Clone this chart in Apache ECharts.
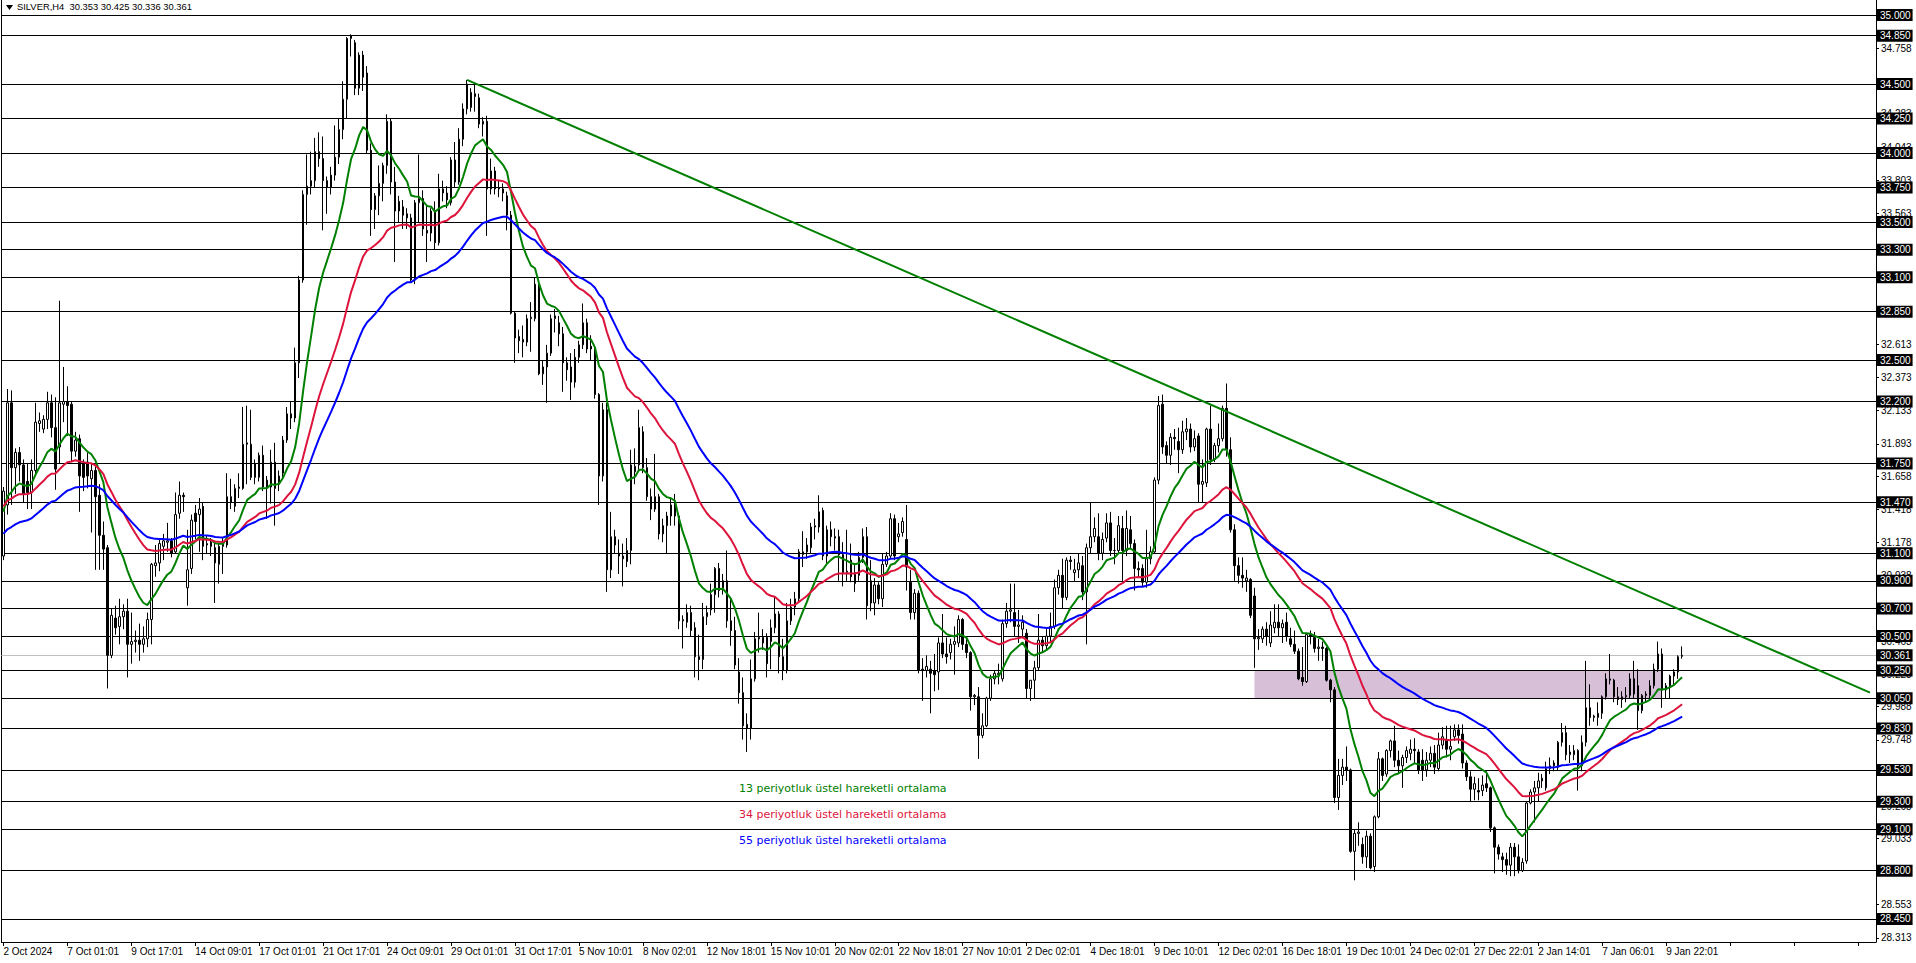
<!DOCTYPE html>
<html><head><meta charset="utf-8">
<script src="https://cdn.jsdelivr.net/npm/echarts@6/dist/echarts.min.js"></script>
<style>html,body{margin:0;padding:0;background:#fff;overflow:hidden}#c{width:1916px;height:963px}</style>
</head><body><div id="c"></div>
<script>
const titleText = 'SILVER,H4  30.353 30.425 30.336 30.361';
const tickLabels = ['2 Oct 2024','7 Oct 01:01','9 Oct 17:01','14 Oct 09:01','17 Oct 01:01','21 Oct 17:01','24 Oct 09:01','29 Oct 01:01','31 Oct 17:01','5 Nov 10:01','8 Nov 02:01','12 Nov 18:01','15 Nov 10:01','20 Nov 02:01','22 Nov 18:01','27 Nov 10:01','2 Dec 02:01','4 Dec 18:01','9 Dec 10:01','12 Dec 02:01','16 Dec 18:01','19 Dec 10:01','24 Dec 02:01','27 Dec 22:01','2 Jan 14:01','7 Jan 06:01','9 Jan 22:01'];
const labelEvery = 16;
// [open, close, low, high]
const candles = [
[31.08,31.55,31.05,31.58],[31.45,32.19,31.38,32.29],[32.19,31.72,31.45,32.28],[31.72,31.83,31.53,31.86],[31.83,31.74,31.62,31.87],
[31.74,31.53,31.47,31.78],[31.62,31.54,31.42,31.75],[31.54,31.70,31.42,31.78],[31.70,32.05,31.68,32.19],[32.04,32.06,31.98,32.12],
[32.00,32.07,31.97,32.10],[32.07,32.19,32.00,32.27],[32.19,32.01,31.94,32.25],[32.01,31.71,31.56,32.23],[31.87,32.19,31.75,32.93],
[32.18,32.20,32.05,32.45],[32.20,32.17,31.95,32.31],[32.18,31.84,31.76,32.20],[31.84,31.92,31.80,31.98],[31.93,31.66,31.40,31.96],
[31.75,31.65,31.55,31.78],[31.76,31.66,31.57,31.83],[31.64,31.70,31.25,31.75],[31.70,31.51,30.98,31.73],[31.52,31.23,30.98,31.60],
[31.23,31.13,30.98,31.33],[31.14,30.36,30.12,31.16],[30.36,30.65,30.34,30.70],[30.63,30.56,30.51,30.72],[30.57,30.64,30.44,30.77],
[30.64,30.68,30.55,30.73],[30.68,30.44,30.20,30.77],[30.44,30.46,30.30,30.67],[30.46,30.47,30.38,30.54],[30.47,30.44,30.32,30.59],
[30.44,30.48,30.38,30.57],[30.48,30.62,30.42,30.67],[30.62,31.02,30.44,31.03],[31.01,31.03,30.93,31.16],[31.03,31.17,30.97,31.21],
[31.15,31.19,31.05,31.24],[31.18,31.19,31.11,31.32],[31.19,31.10,31.07,31.21],[31.11,31.38,31.10,31.54],[31.39,31.52,31.35,31.62],
[31.52,31.51,31.40,31.54],[30.85,30.98,30.72,31.27],[30.99,31.34,30.95,31.38],[31.39,31.33,31.20,31.45],[31.38,31.42,31.11,31.50],
[31.44,31.15,31.05,31.47],[31.16,31.17,31.10,31.23],[31.18,31.15,31.08,31.21],[31.14,31.03,30.74,31.18],[31.02,31.15,30.88,31.17],
[31.15,31.17,30.95,31.21],[31.16,31.51,31.14,31.68],[31.51,31.47,31.42,31.64],[31.44,31.57,31.40,31.60],[31.57,31.58,31.50,31.68],
[31.57,31.89,31.56,32.16],[31.89,31.90,31.60,32.17],[31.89,31.65,31.63,32.14],[31.75,31.65,31.60,31.78],[31.65,31.81,31.62,31.83],
[31.81,31.58,31.55,31.88],[31.63,31.58,31.35,31.66],[31.58,31.76,31.46,31.85],[31.76,31.57,31.30,31.90],[31.60,31.66,31.55,31.70],
[31.68,31.92,31.64,31.95],[31.92,32.11,31.90,32.16],[32.11,32.08,32.00,32.20],[32.08,32.48,32.05,32.59],[32.48,33.08,32.37,33.11],
[33.08,33.70,33.06,33.73],[33.70,33.76,33.48,33.99],[33.76,33.80,33.70,34.01],[33.80,34.01,33.75,34.11],[34.01,33.96,33.90,34.15],
[33.96,33.80,33.44,34.12],[33.80,33.75,33.56,33.83],[33.75,33.84,33.70,33.90],[33.84,33.97,33.80,34.20],[33.97,34.17,33.92,34.25],
[34.17,34.39,34.10,34.52],[34.39,34.83,34.25,34.84],[34.83,34.85,34.70,34.86],[34.80,34.47,34.42,34.82],[34.47,34.71,34.42,34.73],
[34.71,34.55,34.45,34.74],[34.58,34.02,34.00,34.63],[34.02,33.59,33.40,34.07],[33.59,33.69,33.45,33.71],[33.69,33.78,33.55,33.91],
[33.78,33.91,33.65,33.93],[33.91,34.23,33.85,34.28],[34.23,33.79,33.70,34.25],[33.79,33.58,33.21,33.90],[33.58,33.65,33.50,33.69],
[33.61,33.55,33.45,33.66],[33.56,33.53,33.45,33.60],[33.53,33.08,33.06,33.56],[33.08,33.64,33.05,33.66],[33.64,33.67,33.50,33.99],
[33.67,33.45,33.40,33.73],[33.44,33.42,33.21,33.62],[33.42,33.58,33.36,33.60],[33.58,33.35,33.30,33.65],[33.35,33.74,33.33,33.85],
[33.74,33.71,33.65,33.80],[33.71,33.66,33.60,33.76],[33.64,33.95,33.62,33.97],[33.95,33.79,33.75,34.08],[33.79,34.10,33.77,34.18],
[34.10,34.32,34.05,34.36],[34.32,34.50,34.28,34.53],[34.33,34.44,34.30,34.47],[34.43,34.41,34.30,34.51],[34.40,34.21,34.18,34.43],
[34.21,34.23,34.12,34.26],[34.23,33.74,33.40,34.27],[33.74,33.87,33.70,33.96],[33.87,33.74,33.70,33.90],[33.74,33.75,33.68,33.80],
[33.74,33.71,33.65,33.78],[33.69,33.55,33.44,33.72],[33.55,32.84,32.83,33.58],[32.84,32.66,32.48,32.85],[32.67,32.64,32.55,32.72],
[32.63,32.65,32.52,32.75],[32.63,32.80,32.60,32.83],[32.80,32.81,32.56,32.92],[32.80,33.05,32.78,33.10],[33.05,32.40,32.39,33.07],
[32.40,32.45,32.32,32.50],[32.45,32.55,32.19,32.61],[32.55,32.80,32.53,32.83],[32.80,32.82,32.70,32.87],[32.77,32.69,32.60,32.82],
[32.69,32.48,32.27,32.74],[32.48,32.43,32.35,32.52],[32.45,32.34,32.21,32.55],[32.34,32.52,32.30,32.58],[32.52,32.61,32.48,32.64],
[32.61,32.77,32.58,32.91],[32.77,32.58,32.55,32.80],[32.60,32.58,32.50,32.68],[32.58,32.25,32.22,32.61],[32.25,31.66,31.45,32.26],
[31.66,32.14,31.62,32.19],[32.14,30.98,30.82,32.19],[30.98,31.22,30.92,31.40],[31.22,31.16,31.10,31.27],[31.10,31.08,30.95,31.20],
[31.08,31.06,30.86,31.17],[31.04,31.12,31.00,31.21],[31.12,31.74,31.02,31.85],[31.69,31.73,31.60,31.86],[31.74,32.01,31.70,32.14],
[31.98,31.72,31.68,32.02],[31.72,31.51,31.48,31.79],[31.51,31.42,31.34,31.57],[31.42,31.51,31.40,31.82],[31.51,31.24,31.20,31.53],
[31.24,31.30,31.18,31.35],[31.30,31.37,31.10,31.40],[31.37,31.45,31.30,31.50],[31.45,31.37,31.30,31.53],[31.37,30.61,30.55,31.39],
[30.61,30.62,30.41,30.65],[30.60,30.67,30.56,30.73],[30.67,30.54,30.50,30.72],[30.56,30.35,30.20,30.60],[30.35,30.33,30.18,30.51],
[30.33,30.64,30.26,30.74],[30.64,30.67,30.58,30.72],[30.69,30.80,30.65,30.88],[30.80,30.99,30.67,31.00],[30.99,30.83,30.78,31.03],
[30.90,30.85,30.80,30.95],[30.90,30.61,30.56,31.12],[30.61,30.54,30.43,30.78],[30.54,30.29,30.26,30.64],[30.24,30.09,30.01,30.34],
[30.09,29.85,29.75,30.20],[29.86,29.83,29.66,29.94],[29.83,30.19,29.75,30.33],[30.19,30.48,30.17,30.53],[30.48,30.49,30.38,30.67],
[30.49,30.45,30.40,30.55],[30.49,30.30,30.20,30.52],[30.46,30.56,30.26,30.62],[30.56,30.66,30.52,30.79],[30.66,30.35,30.23,30.68],
[30.35,30.25,30.18,30.48],[30.25,30.61,30.23,30.74],[30.61,30.71,30.58,30.77],[30.71,30.77,30.65,30.82],[30.77,31.11,30.75,31.13],
[31.09,31.11,31.00,31.26],[31.11,31.16,31.06,31.21],[31.14,31.29,31.10,31.32],[31.29,31.30,31.20,31.35],[31.29,31.40,31.25,31.52],
[31.41,31.08,31.05,31.43],[31.08,31.27,31.03,31.30],[31.27,31.22,31.15,31.33],[31.22,31.21,31.12,31.28],[31.22,31.09,30.90,31.27],
[31.09,30.96,30.86,31.18],[30.96,30.97,30.90,31.27],[31.05,30.93,30.89,31.17],[30.88,30.96,30.82,31.03],[30.94,31.07,30.90,31.11],
[31.07,31.22,31.03,31.28],[31.22,30.72,30.62,31.29],[30.90,30.74,30.68,31.05],[30.74,30.87,30.65,30.92],[30.87,30.77,30.73,30.89],
[30.77,31.02,30.71,31.10],[31.02,31.08,31.00,31.11],[31.08,31.35,31.06,31.39],[31.35,31.08,31.05,31.38],[31.22,31.24,31.18,31.32],
[31.25,31.33,31.22,31.36],[31.20,31.00,30.83,31.45],[30.89,30.67,30.62,30.98],[30.67,30.81,30.62,30.84],[30.81,30.25,30.23,30.83],
[30.26,30.25,30.03,30.34],[30.25,30.28,30.20,30.36],[30.26,30.23,29.94,30.32],[30.25,30.22,30.10,30.37],[30.24,30.45,30.11,30.49],
[30.45,30.37,30.34,30.66],[30.37,30.35,30.30,30.49],[30.38,30.44,30.33,30.48],[30.44,30.46,30.22,30.57],[30.45,30.62,30.42,30.65],
[30.62,30.44,30.40,30.63],[30.44,30.38,30.34,30.49],[30.38,30.06,29.96,30.39],[30.06,30.07,30.00,30.08],[30.06,29.78,29.61,30.13],
[29.78,29.85,29.76,29.94],[29.85,30.05,29.84,30.06],[30.05,30.19,30.03,30.22],[30.19,30.23,30.15,30.25],[30.22,30.23,30.15,30.30],
[30.19,30.59,30.17,30.62],[30.59,30.68,30.56,30.74],[30.68,30.69,30.60,30.88],[30.67,30.57,30.50,30.88],[30.57,30.58,30.45,30.69],
[30.55,30.60,30.50,30.65],[30.52,30.12,30.05,30.55],[30.12,30.18,30.03,30.18],[30.18,30.27,30.05,30.32],[30.27,30.47,30.25,30.66],
[30.47,30.43,30.38,30.50],[30.43,30.50,30.40,30.55],[30.50,30.57,30.46,30.67],[30.57,30.85,30.55,30.91],[30.85,30.94,30.80,30.98],
[30.94,30.78,30.70,31.06],[30.78,31.05,30.76,31.07],[31.05,31.04,30.98,31.08],[30.96,30.98,30.90,31.06],[30.98,31.03,30.92,31.10],
[31.01,30.82,30.76,31.08],[30.82,31.14,30.44,31.17],[31.14,31.22,31.10,31.47],[31.22,31.28,31.18,31.36],[31.22,31.10,31.05,31.39],
[31.10,31.20,31.05,31.25],[31.21,31.32,31.18,31.39],[31.32,31.12,31.08,31.40],[31.12,31.12,31.02,31.21],[31.12,31.30,31.10,31.37],
[31.28,31.12,30.90,31.37],[31.12,31.28,31.08,31.41],[31.27,31.17,31.13,31.37],[31.17,30.99,30.83,31.20],[30.99,30.98,30.92,31.04],
[30.99,30.89,30.86,31.02],[30.89,31.06,30.85,31.27],[31.06,31.11,31.02,31.15],[31.11,31.63,31.10,31.65],[31.63,32.17,31.60,32.24],
[32.18,31.87,31.82,32.25],[31.88,31.81,31.75,31.91],[31.81,31.94,31.74,31.97],[31.94,31.93,31.85,32.00],[31.91,31.85,31.68,32.01],
[31.85,31.98,31.82,32.06],[31.98,32.00,31.92,32.08],[32.00,31.87,31.83,32.04],[31.87,31.93,31.84,31.99],[31.95,31.60,31.47,31.97],
[31.60,31.62,31.47,31.78],[31.61,32.00,31.58,32.01],[32.00,31.78,31.74,32.17],[31.78,31.88,31.76,31.90],[31.88,31.93,31.83,32.04],
[31.93,32.15,31.91,32.17],[32.15,31.85,31.80,32.33],[31.85,31.27,31.25,31.94],[31.27,31.01,30.90,31.31],[31.01,30.94,30.88,31.07],
[30.94,30.92,30.85,31.07],[30.90,30.92,30.82,30.98],[30.91,30.65,30.63,30.92],[30.79,30.48,30.27,30.85],[30.48,30.49,30.40,30.55],
[30.48,30.55,30.45,30.57],[30.55,30.50,30.43,30.60],[30.45,30.58,30.42,30.68],[30.56,30.60,30.52,30.73],[30.60,30.56,30.50,30.73],
[30.56,30.59,30.45,30.62],[30.60,30.50,30.46,30.67],[30.48,30.44,30.42,30.56],[30.44,30.39,30.37,30.54],[30.39,30.19,30.18,30.41],
[30.20,30.17,30.14,30.42],[30.17,30.51,30.16,30.52],[30.51,30.50,30.44,30.54],[30.49,30.41,30.38,30.53],[30.41,30.42,30.32,30.48],
[30.42,30.41,30.32,30.46],[30.41,30.18,30.17,30.42],[30.18,30.11,30.02,30.19],[30.11,29.33,29.29,30.13],[29.33,29.49,29.24,29.61],
[29.49,29.55,29.42,29.61],[29.55,29.53,29.45,29.70],[29.53,28.94,28.93,29.54],[28.94,29.07,28.73,29.10],[29.07,29.08,28.98,29.15],
[28.99,28.90,28.85,29.04],[28.90,29.05,28.82,29.09],[29.05,28.82,28.81,29.07],[28.83,29.19,28.79,29.20],[29.19,29.61,29.18,29.66],
[29.61,29.49,29.45,29.62],[29.50,29.67,29.48,29.68],[29.67,29.74,29.62,29.75],[29.74,29.60,29.55,29.85],[29.60,29.56,29.50,29.67],
[29.56,29.62,29.40,29.64],[29.62,29.67,29.58,29.70],[29.65,29.68,29.60,29.75],[29.68,29.67,29.58,29.76],[29.66,29.53,29.50,29.68],
[29.60,29.53,29.45,29.68],[29.53,29.60,29.48,29.66],[29.60,29.65,29.55,29.70],[29.65,29.55,29.50,29.71],[29.54,29.71,29.52,29.80],
[29.71,29.77,29.68,29.84],[29.75,29.68,29.62,29.85],[29.68,29.70,29.60,29.85],[29.77,29.82,29.74,29.86],[29.82,29.78,29.72,29.86],
[29.79,29.58,29.54,29.86],[29.58,29.48,29.45,29.60],[29.48,29.39,29.30,29.52],[29.39,29.43,29.31,29.48],[29.38,29.37,29.31,29.47],
[29.38,29.42,29.34,29.49],[29.43,29.40,29.37,29.52],[29.40,29.11,29.08,29.41],[29.11,28.97,28.78,29.12],[28.97,28.92,28.88,28.99],
[28.90,28.88,28.79,28.93],[28.88,28.84,28.77,28.93],[28.84,28.97,28.76,29.00],[28.97,28.90,28.76,29.00],[28.90,28.80,28.78,28.99],
[28.80,28.86,28.79,28.89],[28.87,29.29,28.85,29.30],[29.29,29.37,29.28,29.39],[29.37,29.40,29.15,29.45],[29.40,29.45,29.30,29.51],
[29.45,29.47,29.40,29.50],[29.40,29.54,29.38,29.59],[29.54,29.56,29.50,29.62],[29.56,29.58,29.52,29.60],[29.55,29.73,29.53,29.74],
[29.73,29.80,29.70,29.87],[29.80,29.64,29.60,29.85],[29.64,29.66,29.58,29.71],[29.64,29.67,29.60,29.71],[29.67,29.56,29.38,29.68],
[29.56,29.73,29.52,29.78],[29.73,29.98,29.70,30.32],[29.98,29.91,29.85,30.15],[29.91,29.92,29.88,29.93],[29.91,29.94,29.85,30.02],
[29.94,30.06,29.90,30.07],[30.06,30.19,30.04,30.23],[30.18,30.19,30.15,30.37],[30.18,30.06,30.02,30.19],[30.06,30.04,30.00,30.13],
[30.04,30.06,29.98,30.10],[30.06,30.07,30.02,30.13],[30.07,30.19,30.05,30.23],[30.19,30.08,30.05,30.32],[30.14,29.96,29.82,30.26],
[29.96,30.07,29.94,30.08],[30.07,30.08,30.02,30.10],[30.07,30.14,30.04,30.18],[30.14,30.26,30.12,30.30],[30.26,30.37,30.24,30.46],
[30.37,30.11,29.98,30.41],[30.11,30.14,30.05,30.16],[30.14,30.21,30.05,30.22],[30.21,30.24,30.15,30.26],[30.24,30.35,30.19,30.36],
[30.353,30.361,30.336,30.425]
];
const emaPeriods = [13, 34, 55];
const emaStart = [31.40, 31.44, 31.24];   // indicator values read at the first visible bar
const emaColors = ['#008000', '#dc143c', '#0000ff'];
const emaNames = ['13 periyotluk üstel hareketli ortalama', '34 periyotluk üstel hareketli ortalama', '55 periyotluk üstel hareketli ortalama'];
const levelLines = [35.000,34.850,34.500,34.250,34.000,33.750,33.500,33.300,33.100,32.850,32.500,32.200,31.750,31.470,31.100,30.900,30.700,30.500,30.250,30.050,29.830,29.530,29.300,29.100,28.800,28.450];
const currentPrice = 30.361;
const priceTicks = [28.313,28.553,29.033,29.268,29.508,29.748,29.988,30.223,30.463,30.938,31.178,31.418,31.658,31.893,32.133,32.373,32.613,33.083,33.563,33.803,34.043,34.283,34.758];
const trendLine = [[116, 34.53], [467, 30.09]];
const zoneBox = {fromBar: 313, toBar: 415, top: 30.25, bottom: 30.05};
const yMin = 28.283, yMax = 35.109;
const totalSlots = 469;

const closes = candles.map(c => c[1]);
function ema(period, start) {
  const k = 2 / (period + 1);
  let e = start;
  return closes.map((c, i) => { if (i > 0) e = e + k * (c - e); return +e.toFixed(4); });
}
const categories = Array.from({length: totalSlots}, (_, i) => String(i));
const FONT = 'Liberation Sans, Arial, sans-serif';

const chart = echarts.init(document.getElementById('c'), null, {renderer: 'svg'});
const series = [
  {type: 'line', data: [], silent: true, z: 1,
   markArea: {silent: true, itemStyle: {color: '#d8bfd8'},
     data: [[{xAxis: zoneBox.fromBar, yAxis: zoneBox.top}, {xAxis: zoneBox.toBar, yAxis: zoneBox.bottom}]]}},
  {type: 'line', data: [], silent: true, z: 2,
   markLine: {silent: true, symbol: ['none', 'none'], animation: false,
     label: {show: false},
     data: levelLines.map(v => ({yAxis: v, lineStyle: {color: '#000', width: 1, type: 'solid'}}))
       .concat([{yAxis: currentPrice, lineStyle: {color: '#c0c0c0', width: 1, type: 'solid'}}])}},
  {type: 'candlestick', data: candles, barWidth: 2, z: 5,
   itemStyle: {color: '#fff', color0: '#000', borderColor: '#000', borderColor0: '#000', borderWidth: 1}}
];
emaPeriods.forEach((p, j) => {
  series.push({type: 'line', name: emaNames[j], data: ema(p, emaStart[j]), showSymbol: false, symbol: 'none', z: 6,
    lineStyle: {color: emaColors[j], width: 2}, itemStyle: {color: emaColors[j]}});
});
series.push({type: 'line', data: trendLine, showSymbol: false, symbol: 'none', z: 7,
  lineStyle: {color: '#008000', width: 2}});

const yBase = {type: 'value', min: yMin, max: yMax, splitLine: {show: false}};
chart.setOption({
  animation: false,
  backgroundColor: '#fff',
  grid: {left: 1.4, right: 40, top: 0, bottom: 21},
  xAxis: {type: 'category', data: categories, boundaryGap: true,
    axisLine: {show: true, lineStyle: {color: '#000', width: 1}},
    axisTick: {show: true, alignWithLabel: true, interval: i => i % labelEvery === 0, length: 4, lineStyle: {color: '#000'}},
    axisLabel: {interval: i => i % labelEvery === 0, formatter: (v, i) => tickLabels[i / labelEvery] || '',
      align: 'left', margin: 4, padding: [0, 0, 0, 0], fontSize: 10, fontFamily: FONT, color: '#000'},
    splitLine: {show: false}},
  yAxis: [
    Object.assign({}, yBase, {position: 'right', axisLine: {show: true, lineStyle: {color: '#000'}}, axisTick: {show: false}, axisLabel: {show: false}}),
    Object.assign({}, yBase, {position: 'right', axisLine: {show: false},
      axisTick: {show: true, customValues: priceTicks, length: 3, lineStyle: {color: '#000'}},
      axisLabel: {customValues: priceTicks, formatter: v => v.toFixed(3), margin: 5, fontSize: 10, fontFamily: FONT, color: '#000'}}),
    Object.assign({}, yBase, {position: 'right', axisLine: {show: false}, axisTick: {show: false},
      axisLabel: {customValues: levelLines.concat([currentPrice]), formatter: v => v.toFixed(3), margin: 0, fontSize: 10, fontFamily: FONT,
        color: '#fff', backgroundColor: '#000', padding: [1, 2, 1, 4]}}),
    Object.assign({}, yBase, {position: 'left', axisLine: {show: true, lineStyle: {color: '#000'}}, axisTick: {show: false}, axisLabel: {show: false}})
  ],
  series: series,
  graphic: [
    {type: 'polygon', shape: {points: [[6, 5], [13, 5], [9.5, 10]]}, style: {fill: '#000'}},
    {type: 'text', left: 17, top: 2, style: {text: titleText, font: '9.4px ' + FONT, fill: '#000'}},
  ].concat(emaNames.map((t, j) => ({type: 'text', left: 739, top: 783 + j * 26, style: {text: t, font: '11px DejaVu Sans, sans-serif', fill: emaColors[j]}})))
});
</script></body></html>
